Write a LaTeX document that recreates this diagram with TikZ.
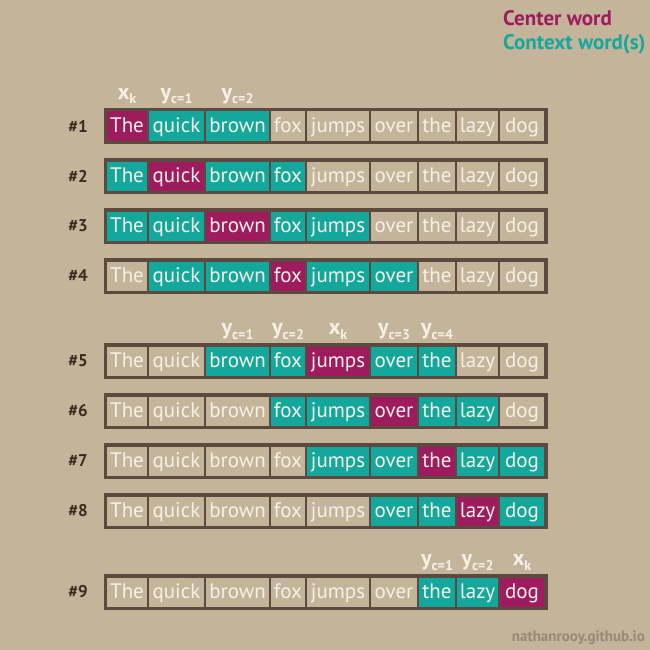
\documentclass[tikz,border=0pt]{standalone}
\usepackage{fontspec}
\setmainfont{PT Sans}
\usepackage{tikz}
\usetikzlibrary{positioning}

\definecolor{paper}{RGB}{196,180,154}
\definecolor{centreword}{RGB}{158,28,94}
\definecolor{contextword}{RGB}{20,168,156}
\definecolor{edge}{RGB}{92,74,64}
\definecolor{ink}{RGB}{246,241,231}
\definecolor{rowink}{RGB}{60,42,30}
\definecolor{markink}{RGB}{152,136,122}

\tikzset{
  cell/.style={draw=edge,line width=2pt,inner sep=0pt,minimum height=31pt,
    text height=15pt,text depth=2pt,text=ink,font=\fontsize{21}{21}\selectfont},
  plaincell/.style={cell,fill=paper},
  contextcell/.style={cell,fill=contextword},
  centrecell/.style={cell,fill=centreword},
  rowlab/.style={text=rowink,font=\bfseries\fontsize{17}{17}\selectfont},
  varlab/.style={text=ink,font=\bfseries\fontsize{22}{22}\selectfont,anchor=base,inner sep=0pt},
  legend/.style={anchor=base west,inner sep=0pt,font=\bfseries\fontsize{21}{21}\selectfont}
}
\newcommand{\sub}[1]{\raisebox{-4.5pt}{\fontsize{14}{14}\selectfont #1}}

\begin{document}
\begin{tikzpicture}[x=1pt,y=-1pt]
\useasboundingbox[fill=paper](0,0)rectangle(650,650);
% legend
\node[legend,text=centreword](leg1)at(503,26){Center word};
\node[legend,text=contextword](leg2)at(503,50){Context word(s)};
% rows of the sentence, window of two words each side
\foreach \r/\yy in {1/126,2/176,3/226,4/276,5/361,6/411,7/461,8/511,9/592}{
  \node[rowlab](row\r)at(78,\yy){\#\r};
  \foreach \w/\xl/\xr [count=\j] in {The/106/148,quick/148/205,brown/205/270,
      fox/270/306,jumps/306/370,over/370/418,the/418/456,lazy/456/499,dog/499/545}{
    \pgfmathtruncatemacro\d{abs(\j-\r)}
    \ifnum\d=0 \def\kind{centrecell}\else\ifnum\d<3 \def\kind{contextcell}\else\def\kind{plaincell}\fi\fi
    \pgfmathsetmacro\cellw{\xr-\xl}
    \node[\kind,minimum width=\cellw pt](c\r-\j)at({(\xl+\xr)/2},\yy){\w};
  }
  \draw[edge,line width=3pt](c\r-1.north west)rectangle(c\r-9.south east);
}
% variable labels
\node[varlab](l1a)at([yshift=10pt]c1-1.north){x\sub{k}};
\node[varlab](l1b)at([yshift=10pt]c1-2.north){y\sub{c=1}};
\node[varlab](l1c)at([yshift=10pt]c1-3.north){y\sub{c=2}};
\node[varlab](l5a)at([yshift=10pt]c5-3.north){y\sub{c=1}};
\node[varlab](l5b)at([yshift=10pt]c5-4.north){y\sub{c=2}};
\node[varlab](l5c)at([yshift=10pt]c5-5.north){x\sub{k}};
\node[varlab](l5d)at([yshift=10pt]c5-6.north){y\sub{c=3}};
\node[varlab](l5e)at([yshift=10pt]c5-7.north){y\sub{c=4}};
\node[varlab](l9a)at([yshift=10pt]c9-7.north){y\sub{c=1}};
\node[varlab](l9b)at([yshift=10pt]c9-8.north){y\sub{c=2}};
\node[varlab](l9c)at([yshift=10pt]c9-9.north){x\sub{k}};
% watermark
\node[anchor=base east,inner sep=0pt,text=markink,font=\bfseries\fontsize{15}{15}\selectfont](mark)at(645,641){nathanrooy.github.io};
\end{tikzpicture}
\end{document}
